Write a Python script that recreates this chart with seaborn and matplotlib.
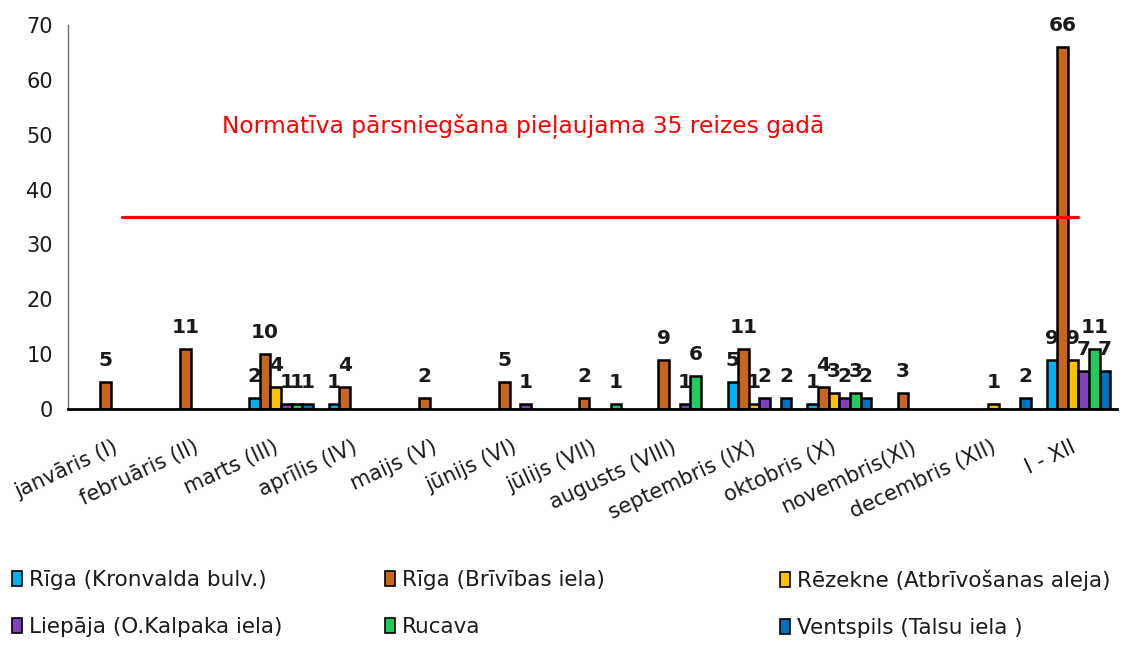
import pandas as pd
import numpy as np
import matplotlib
matplotlib.use("Agg")
import matplotlib.pyplot as plt
import seaborn as sns
from matplotlib.patches import Patch

sns.set_style("white")
plt.rcParams['font.family'] = ['DejaVu Sans']

# data

months = ["janvāris (I)", "februāris (II)", "marts (III)", "aprīlis (IV)", "maijs (V)",
          "jūnijs (VI)", "jūlijs (VII)", "augusts (VIII)", "septembris (IX)",
          "oktobris (X)", "novembris(XI)", "decembris (XII)", "I - XII"]

stations = ["Rīga (Kronvalda bulv.)", "Rīga (Brīvības iela)", "Rēzekne (Atbrīvošanas aleja)",
            "Liepāja (O.Kalpaka iela)", "Rucava", "Ventspils (Talsu iela )"]

nan = np.nan
kronvalda = [nan, nan, 2, 1, nan, nan, nan, nan, 5, 1, nan, nan, 9]
brivibas = [5, 11, 10, 4, 2, 5, 2, 9, 11, 4, 3, nan, 66]
rezekne = [nan, nan, 4, nan, nan, nan, nan, nan, 1, 3, nan, 1, 9]
liepaja = [nan, nan, 1, nan, nan, 1, nan, 1, 2, 2, nan, nan, 7]
rucava = [nan, nan, 1, nan, nan, nan, 1, 6, nan, 3, nan, nan, 11]
ventspils = [nan, nan, 1, nan, nan, nan, nan, nan, 2, 2, nan, 2, 7]

norm_limit = [35] * len(months)

colors = ["#00B0F0", "#C8651E", "#FFC000", "#8040C0", "#1FCB5C", "#0070C0"]

#long table for seaborn

series = [kronvalda, brivibas, rezekne, liepaja, rucava, ventspils]
rows = []
for st, vals in zip(stations, series):
    for m, v in zip(months, vals):
        rows.append({"month": m, "station": st, "value": v})
df = pd.DataFrame(rows).dropna()

fig = plt.figure(figsize=(11.21, 6.48), dpi=100)
ax = fig.add_axes([68/1121, 239/648, 1049/1121, 384/648])

sns.barplot(data=df, x="month", y="value", hue="station", order=months,
            hue_order=stations, palette=colors, saturation=1, width=0.8,
            edgecolor="black", linewidth=1.8, legend=False, ax=ax)

for cont in ax.containers:
    ax.bar_label(cont, padding=8.5, fontsize=14.5, fontweight="bold", color="#1a1a1a")

#normative line
ax.plot(range(len(months)), norm_limit, color="red", lw=2.3)
ax.text(1.26, 51.5, "Normatīva pārsniegšana pieļaujama 35 reizes gadā",
        color="red", fontsize=16.8, ha="left", va="center")

ax.set_xlim(-0.671, 12.483)
ax.set_ylim(0, 70)
ax.set_yticks(range(0, 71, 10))
ax.set_xlabel("")
ax.set_ylabel("")
ax.tick_params(axis="y", length=0, pad=11, labelsize=15, labelcolor="#1a1a1a")
ax.tick_params(axis="x", length=0, pad=20, labelsize=15, labelcolor="#1a1a1a")
plt.setp(ax.get_xticklabels(), rotation=25, ha="right")

sns.despine(ax=ax, top=True, right=True)
ax.spines["left"].set_color("#6e6e6e")
ax.spines["left"].set_linewidth(1)
ax.spines["bottom"].set_color("black")
ax.spines["bottom"].set_linewidth(2)

#legend in three columns
handles = [Patch(facecolor=c, edgecolor="black", linewidth=1.2) for c in colors]
col_x = [3/1121, 376/1121, 771/1121]
for i, x in enumerate(col_x):
    idx = [i, i + 3]
    leg = fig.legend([handles[j] for j in idx], [stations[j] for j in idx],
                     loc="center left", bbox_to_anchor=(x, 0.0685), frameon=False,
                     fontsize=15.5, handlelength=0.5, handleheight=0.7,
                     handletextpad=0.3, labelspacing=1.25, borderaxespad=0)
    for t in leg.get_texts():
        t.set_color("#1a1a1a")

fig.savefig("out.png", dpi=100)
